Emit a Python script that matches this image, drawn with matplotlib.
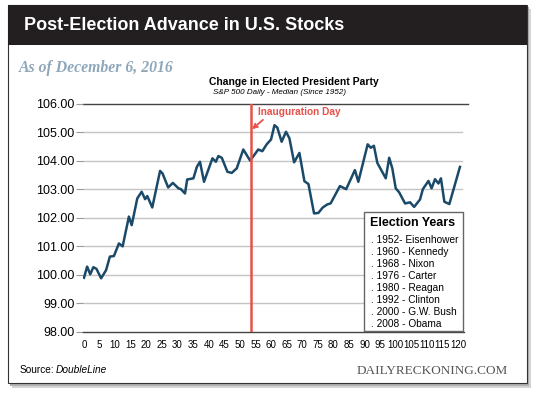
import matplotlib.pyplot as plt
from matplotlib.patches import Rectangle

plt.rcParams['font.family'] = ['Liberation Sans', 'DejaVu Sans']

# trading days after election vs median S&P 500 index (start = 100)
days = [0, 1, 2, 3, 4, 5.5, 7.1, 8.3, 9.6, 11.2, 12.4, 14.4, 15.3, 17.1, 18.5, 19.6,
        20.3, 21.9, 24.4, 25.2, 27.0, 28.5, 30.3, 31.1, 32.4, 33.1, 35.1, 36.2, 37.2,
        38.5, 41.2, 42.3, 43.1, 44.2, 46.0, 47.4, 49.0, 51.1, 53.3, 55.9, 57.2, 58.6,
        60.0, 61.1, 62.0, 63.4, 64.8, 65.9, 67.4, 69.1, 70.7, 72.0, 73.8, 75.2, 76.6,
        78.1, 79.1, 82.1, 84.1, 86.9, 88.0, 91.0, 92.0, 93.0, 94.1, 96.8, 97.9, 98.9,
        100.0, 101.1, 103.0, 104.6, 105.9, 107.8, 108.7, 110.5, 111.5, 112.6, 113.7,
        114.5, 115.6, 117.2, 120.6]
median = [99.90, 100.29, 100.02, 100.27, 100.21, 99.88, 100.17, 100.64, 100.66, 101.10,
          101.00, 102.04, 101.74, 102.68, 102.91, 102.65, 102.76, 102.36, 103.64, 103.55,
          103.06, 103.22, 103.03, 103.00, 102.85, 103.34, 103.38, 103.78, 103.96, 103.26,
          104.08, 103.96, 104.16, 104.10, 103.61, 103.57, 103.73, 104.39, 104.00, 104.39,
          104.33, 104.57, 104.74, 105.24, 105.16, 104.66, 105.01, 104.78, 103.94, 104.27,
          103.28, 103.18, 102.15, 102.17, 102.36, 102.47, 102.50, 103.11, 103.00, 103.67,
          103.26, 104.57, 104.45, 104.52, 103.92, 103.38, 104.10, 103.73, 103.03, 102.89,
          102.50, 102.54, 102.38, 102.64, 103.00, 103.29, 103.03, 103.35, 103.20, 103.38,
          102.56, 102.48, 103.78]
inauguration = 53.5

xticks = list(range(0, 121, 5))
yticks = [98, 99, 100, 101, 102, 103, 104, 105, 106]
years = ['. 1952- Eisenhower', '. 1960 - Kennedy', '. 1968 - Nixon', '. 1976 - Carter',
         '. 1980 - Reagan', '. 1992 - Clinton', '. 2000 - G.W. Bush', '. 2008 - Obama']

W, H = 540, 393
fig = plt.figure(figsize=(W / 100, H / 100), dpi=100)
fig.patch.set_facecolor('white')

def fx(px):
    return px / W

def fy(py):
    return 1 - py / H

# card with shadow + black header
fig.patches.append(Rectangle((fx(12), fy(388)), fx(519), fy(9) - fy(388),
                             transform=fig.transFigure, facecolor='#d4d4d4', edgecolor='none', zorder=0))
fig.patches.append(Rectangle((fx(10), fy(386)), fx(519), fy(7) - fy(386),
                             transform=fig.transFigure, facecolor='#b0b0b0', edgecolor='none', zorder=0))
fig.patches.append(Rectangle((fx(8), fy(383)), fx(519), fy(5) - fy(383),
                             transform=fig.transFigure, facecolor='white', edgecolor='#333333', lw=0.8, zorder=1))
fig.patches.append(Rectangle((fx(8), fy(45)), fx(519), fy(5) - fy(45),
                             transform=fig.transFigure, facecolor='#231f20', edgecolor='none', zorder=2))

fig.text(fx(24), fy(25), 'Post-Election Advance in U.S. Stocks', color='white',
         fontsize=13, fontweight='bold', va='center', ha='left', zorder=3)
fig.text(fx(19), fy(68), 'As of December 6, 2016', color='#8ea6ba', fontsize=11.3,
         family='Liberation Serif', fontweight='bold', style='italic', va='center')
fig.text(fx(294), fy(82), 'Change in Elected President Party', fontsize=7.5,
         fontweight='bold', ha='center', va='center')
fig.text(fx(213), fy(93), 'S&P 500 Daily - Median (Since 1952)', fontsize=5.8,
         style='italic', ha='left', va='center')
fig.text(fx(20), fy(370), 'Source:', fontsize=7.3, va='center')
fig.text(fx(56), fy(370), 'DoubleLine', fontsize=7.3, style='italic', va='center')
fig.text(fx(508), fy(371), 'DAILYRECKONING.COM', fontsize=9.5, family='Liberation Serif',
         color='#555555', ha='right', va='center')

ax = fig.add_axes([fx(83), fy(332), fx(381), fy(103.5) - fy(332)])
ax.set_zorder(3)
ax.set_facecolor('none')
ax.set_xlim(-0.32, 121.9)
ax.set_ylim(98, 106)
for v in yticks[1:-1]:
    ax.axhline(v, xmin=0, xmax=0.995, color='#c4c4c4', lw=1, zorder=1)
ax.axhline(106, xmin=0, xmax=1.01, color='#444444', lw=1, zorder=1, clip_on=False)
for s in ['top', 'right', 'left']:
    ax.spines[s].set_visible(False)
ax.spines['bottom'].set_color('#444444')
ax.spines['bottom'].set_linewidth(1)

ax.plot(days, median, color='#1b4a69', lw=1.8, zorder=3)
ax.axvline(inauguration, color='#e8514a', lw=1.8, zorder=4)
ax.annotate('Inauguration Day', xy=(inauguration + 0.4, 105.1), xytext=(inauguration + 2.3, 105.7),
            color='#e8514a', fontsize=7.3, fontweight='bold', va='center', ha='left',
            arrowprops=dict(arrowstyle='->', color='#e8514a', lw=1.3,
                            shrinkA=0, shrinkB=0, relpos=(0.1, 0.0)))

ax.set_xticks(xticks)
ax.set_xticklabels([str(t) for t in xticks])
ax.set_yticks(yticks)
ax.set_yticklabels(['%.2f' % t for t in yticks])
ax.tick_params(axis='x', length=0, pad=6, labelsize=7)
ax.tick_params(axis='y', length=5, pad=1, labelsize=9, color='#999999')

# election years box
fig.patches.append(Rectangle((fx(364), fy(331)), fx(99), fy(212) - fy(331), transform=fig.transFigure,
                             facecolor='white', edgecolor='#666666', lw=1, zorder=5))
fig.text(fx(370), fy(223), 'Election Years', fontsize=9, fontweight='bold', va='center', zorder=6)
for i, y in enumerate(years):
    fig.text(fx(371), fy(240 + 12 * i), y, fontsize=7.3, va='center', zorder=6)

fig.savefig('out.png', dpi=100)
